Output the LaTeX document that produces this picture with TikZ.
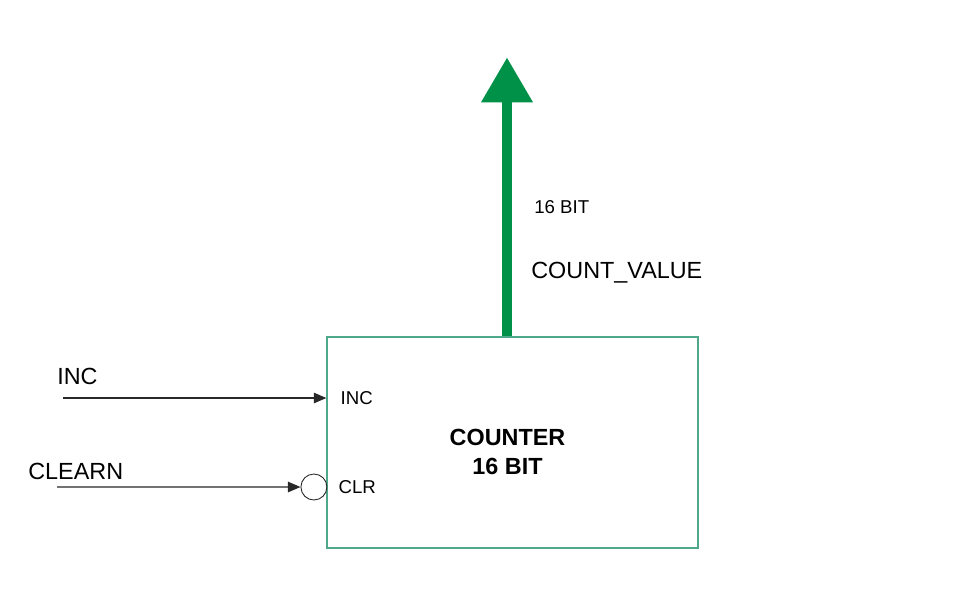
\documentclass[tikz,border=0pt]{standalone}
\usepackage{fontspec}
\setmainfont{Liberation Sans}
\usetikzlibrary{positioning, calc, arrows.meta, shapes}
\definecolor{boxgreen}{RGB}{80,168,138}
\definecolor{busgreen}{RGB}{0,145,72}
\definecolor{wire}{RGB}{40,40,40}
\tikzset{counter/.style={draw=boxgreen, line width=0.8pt, minimum width=7.42cm, minimum height=4.22cm, inner sep=0pt}}
\tikzset{biglabel/.style={inner sep=0pt, font=\fontsize{13.3}{16}\selectfont}}
\tikzset{pinlabel/.style={inner sep=0pt, font=\fontsize{10.6}{13}\selectfont}}
\tikzset{signal/.style={draw=wire, line width=0.6pt, -{Triangle[length=2.5mm,width=2.1mm]}}}
\tikzset{bus/.style={draw=busgreen, line width=5.7pt, -{Triangle[length=9mm,width=9.8mm]}}}
\tikzset{bubble/.style={draw=wire, circle, line width=0.5pt, minimum size=0.52cm, inner sep=0pt}}

\begin{document}
\begin{tikzpicture}[x=0.02cm, y=-0.02cm]
      \useasboundingbox (0,0) rectangle (960,600);
      \node[counter] (cnt) at (512.5,442.5) {};
      \node[biglabel, font=\fontsize{13.3}{16.5}\selectfont\bfseries, align=center] (title) at ($(cnt.center)+(-5,9)$) {COUNTER\\16 BIT};

      % inputs
      \node[pinlabel, anchor=west] (incpin) at ($(cnt.west)+(14,-44.5)$) {INC};
      \node[pinlabel, anchor=west] (clrpin) at ($(cnt.west)+(12,44.5)$) {CLR};
      \coordinate (incend) at (cnt.west |- incpin);
      \node[bubble, anchor=east] (clrbub) at ($(cnt.west |- clrpin)+(1,0)$) {};

      \coordinate (incstart) at (63,398);
      \node[biglabel, anchor=west] (inclbl) at ($(incstart)+(-6,-22)$) {INC};
      \draw[signal] (incstart) -- (incend);

      \coordinate (clrstart) at (57,487);
      \node[biglabel, anchor=west] (clrlbl) at ($(clrstart)+(-29,-16)$) {CLEARN};
      \draw[signal] (clrstart) -- (clrbub.west);

      % output bus
      \coordinate (outbase) at ($(cnt.north)+(-5.5,0)$);
      \coordinate (outtip) at ($(outbase)+(0,-279)$);
      \draw[bus] (outbase) -- (outtip);
      \node[pinlabel, anchor=west] (width) at ($(outbase)+(27,-129)$) {16 BIT};
      \node[biglabel, anchor=west] (outlbl) at ($(outbase)+(24,-64)$) {COUNT\_VALUE};
    \end{tikzpicture}
\end{document}
